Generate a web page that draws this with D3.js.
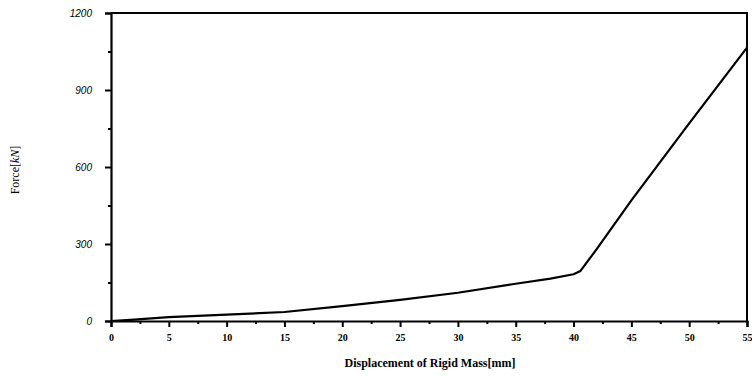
<!DOCTYPE html>
<html>
<head>
<meta charset="utf-8">
<script src="https://cdn.jsdelivr.net/npm/d3@7"></script>
<style>
  body { margin: 0; background: #fff; }
  svg { display: block; }
</style>
</head>
<body>
<svg id="chart"></svg>
<script>
// displacement [mm] vs force [kN]
const disp  = [0, 2, 5, 10, 15, 20, 25, 30, 35, 38, 40, 40.6, 42, 45, 50, 55];
const force = [0, 5, 15, 25, 35, 58, 82, 110, 145, 165, 182, 195, 280, 470, 770, 1065];
const xTicks = [0, 5, 10, 15, 20, 25, 30, 35, 40, 45, 50, 55];
const yTicks = [0, 300, 600, 900, 1200];

const width = 752, height = 376;
const margin = {top: 13, right: 5, bottom: 55, left: 111};

const svg = d3.select('#chart')
    .attr('width', width)
    .attr('height', height);

const x = d3.scaleLinear().domain([0, 55]).range([margin.left, width - margin.right]);
const y = d3.scaleLinear().domain([0, 1200]).range([height - margin.bottom, margin.top]);

// frame (top and right)
svg.append('path')
    .attr('d', 'M' + x(0) + ',' + y(1200) + 'H' + x(55) + 'V' + y(0))
    .attr('fill', 'none')
    .attr('stroke', '#000')
    .attr('stroke-width', 2);

// minor ticks
const xMinor = d3.range(2.5, 55, 5);
const yMinor = d3.range(150, 1200, 300);

const xAxis = svg.append('g')
    .attr('transform', 'translate(0,' + y(0) + ')')
    .call(d3.axisBottom(x).tickValues(xTicks).tickSize(6).tickPadding(7));
svg.append('g')
    .attr('transform', 'translate(0,' + y(0) + ')')
    .call(d3.axisBottom(x).tickValues(xMinor).tickSize(3).tickFormat(''))
    .select('.domain').remove();

const yAxis = svg.append('g')
    .attr('transform', 'translate(' + x(0) + ',0)')
    .call(d3.axisLeft(y).tickValues(yTicks).tickSize(6).tickPadding(13).tickFormat(d3.format('d')));
svg.append('g')
    .attr('transform', 'translate(' + x(0) + ',0)')
    .call(d3.axisLeft(y).tickValues(yMinor).tickSize(3).tickFormat(''))
    .select('.domain').remove();

svg.selectAll('.domain').attr('stroke-width', 2.2);
svg.selectAll('.tick line').attr('stroke-width', 2);

xAxis.selectAll('text')
    .attr('font-family', '"Liberation Serif", "Times New Roman", serif')
    .attr('font-weight', 'bold')
    .attr('font-size', 10);

yAxis.selectAll('text')
    .attr('font-family', '"Liberation Sans", Arial, sans-serif')
    .attr('font-style', 'italic')
    .attr('font-size', 10);

// curve
const line = d3.line()
    .x((d, i) => x(disp[i]))
    .y(d => y(d));

svg.append('path')
    .datum(force)
    .attr('fill', 'none')
    .attr('stroke', '#000')
    .attr('stroke-width', 2.2)
    .attr('stroke-linejoin', 'round')
    .attr('d', line);

// axis titles
svg.append('text')
    .attr('x', 430)
    .attr('y', 367)
    .attr('text-anchor', 'middle')
    .attr('font-family', '"Liberation Serif", "Times New Roman", serif')
    .attr('font-weight', 'bold')
    .attr('font-size', 12)
    .text('Displacement of Rigid Mass[mm]');

const yt = svg.append('text')
    .attr('transform', 'translate(19,170) rotate(-90)')
    .attr('text-anchor', 'middle')
    .attr('font-family', '"Liberation Serif", "Times New Roman", serif')
    .attr('font-size', 12);
yt.append('tspan').text('Force[');
yt.append('tspan').attr('font-style', 'italic').text('kN');
yt.append('tspan').text(']');
</script>
</body>
</html>
